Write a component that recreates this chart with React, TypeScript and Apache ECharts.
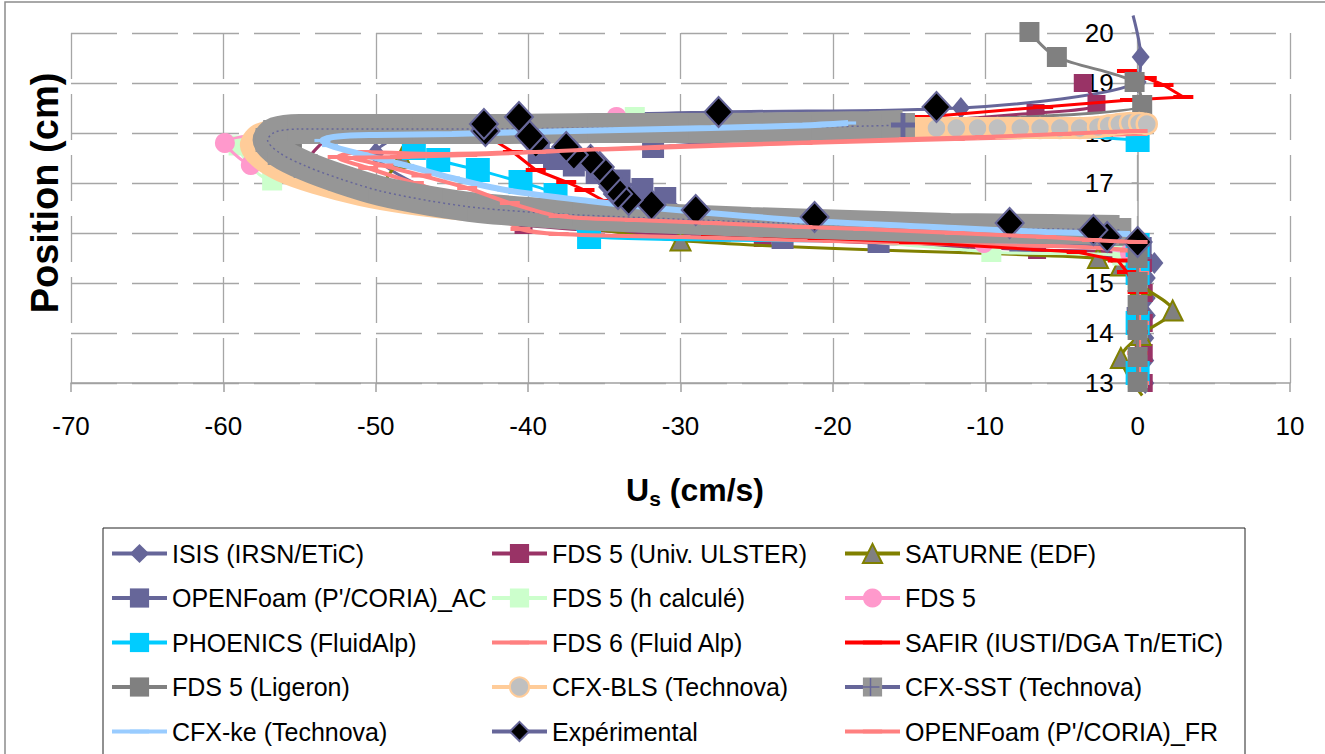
import { useEffect, useRef } from 'react';
import * as echarts from 'echarts';

type Pt = [number, number];

const xRange = { min: -70, max: 10, step: 10 };
const yRange = { min: 13, max: 20, step: 1 };

const isis: Pt[] = [[0.5,13.0],[0.5,13.45],[0.5,13.9],[0.6,14.35],[0.6,14.7],[0.6,15.1],[1.1,15.4],[-2,15.74],[-11.3,15.82],[-30,15.94],[-43.2,16.5],[-50,17.6],[-47,18.1],[-40.6,18.3],[-27.5,18.42],[-11.6,18.5],[0,19.02],[0.2,19.52],[-0.3,20.35]];
const fds5Ulster: Pt[] = [[0.4,13.0],[0.4,13.6],[0.4,14.2],[0.4,14.8],[0.35,15.4],[-2,15.62],[-6.6,15.66],[-24.6,15.9],[-40.3,16.16],[-46.4,16.64],[-52.3,17.08],[-54.6,17.34],[-52,18.05],[-35,18.08],[-22,18.1],[-6.7,18.4],[-2.7,18.58],[-3.6,19.0]];
const saturne: Pt[] = [[0.3,12.75],[-1.1,13.5],[0.2,13.96],[2.3,14.45],[0.2,14.96],[-1.1,15.35],[-2.6,15.5],[-30,15.85],[-43.2,16.5],[-49.7,16.84],[-48.3,17.5],[-46,18.06],[-36,18.08],[-20,18.1],[-6,18.14],[0,18.2]];
const openfoamAC: Pt[] = [[0,13.2],[0,14.3],[0,15.2],[0.2,15.7],[-7.7,15.8],[-17,15.82],[-23.3,15.9],[-27.4,16.05],[-31,16.7],[-32.5,16.88],[-34,17.05],[-35.5,17.2],[-37,17.35],[-38.3,17.48],[-39.3,17.6],[-31.8,17.72],[-15,18.08],[0,18.1]];
const fds5hCalc: Pt[] = [[0,13.1],[0,14.1],[0,15.1],[-1,15.55],[-9.6,15.62],[-37.9,16.38],[-46.4,16.64],[-52.3,17.08],[-56.8,17.05],[-59,17.75],[-56,18.1],[-45,18.1],[-33,18.32],[-18,18.12],[0,18.2]];
const fds5: Pt[] = [[0,13.1],[0,14.1],[0,15.1],[-0.5,15.6],[-10.1,15.8],[-37.9,16.38],[-46.4,16.64],[-52.3,17.08],[-58.2,17.36],[-59.9,17.8],[-52,18.1],[-34.2,18.32],[-18,18.1],[0,18.2]];
const phoenics: Pt[] = [[0,13.2],[0,14.2],[0,15.2],[0,15.76],[-36,15.92],[-38.2,16.76],[-40.5,17.02],[-43.3,17.26],[-45.9,17.46],[-47.5,17.7],[-44,18.08],[-30,18.08],[-15,18.08],[0,17.86]];
const fds6: Pt[] = [[0.1,13.0],[0.1,14.2],[0.1,15.2],[-0.5,15.65],[-10,15.76],[-20,15.84],[-30,15.92],[-38,15.98],[-40.5,16.08],[-42,16.35],[-44.5,16.7],[-47.5,17.0],[-50.5,17.3],[-52.5,17.52],[-51,17.62],[-46,17.58],[-40,17.62],[-32,17.7],[-22,17.8],[-12,17.88],[0,17.98]];
const safir: Pt[] = [[0,13.6],[0,14.02],[0,14.42],[0,14.82],[-0.7,15.22],[-1.3,15.45],[-4,15.62],[-15,15.82],[-21,15.9],[-28,15.98],[-31.5,16.12],[-33.5,16.4],[-35,16.64],[-36.3,16.86],[-37.5,17.02],[-39.5,17.26],[-41,17.62],[-43,18.0],[-30,18.1],[-20,18.16],[-14,18.32],[-6.2,18.52],[-0.5,18.66],[3.0,18.72],[1.7,18.96],[0.6,19.1],[-0.7,19.24]];
const fds5Ligeron: Pt[] = [[0,13.02],[0,13.52],[0,14.06],[0,14.56],[0,15.02],[0,15.5],[-1.5,15.95],[-12,16.08],[-28,16.24],[-42,16.48],[-49.7,16.84],[-54.6,17.34],[-55.5,17.85],[-48,18.08],[-30,18.12],[0.3,18.56],[-0.2,19.02],[-5.3,19.52],[-7.1,20.02]];
const cfxBlsCurve: Pt[] = [[-0.5,16.08],[-5,16.08],[-12,16.1],[-20,16.16],[-30,16.26],[-38,16.36],[-44,16.46],[-48,16.6],[-51,16.76],[-54,17.0],[-56.2,17.24],[-57.6,17.5],[-58.2,17.76],[-57.6,17.98],[-55,18.14],[-50,18.16],[-40,18.14],[-30,18.12],[-20,18.1]];
const cfxBlsMarked: Pt[] = [[-13.2,18.1],[-11.9,18.1],[-10.5,18.1],[-9.2,18.1],[-7.7,18.1],[-6.4,18.1],[-5.1,18.1],[-3.8,18.1],[-2.6,18.12],[-1.9,18.15],[-1.2,18.18],[-0.5,18.2],[0.1,18.2],[0.6,18.18]];
const cfxSst: Pt[] = [[-1.2,16.06],[-5.7,16.08],[-12.3,16.1],[-18.9,16.16],[-25.4,16.22],[-32,16.3],[-37.9,16.38],[-43.2,16.5],[-46.4,16.64],[-49.7,16.84],[-52.3,17.08],[-54.6,17.34],[-56.3,17.6],[-57.1,17.86],[-56.6,18.02],[-55,18.08],[-51.7,18.08],[-48.4,18.08],[-41.8,18.08],[-35.3,18.1],[-28.7,18.1],[-22.2,18.12],[-17.6,18.14],[-15.4,18.16]];
const cfxKe: Pt[] = [[-0.5,15.98],[-6,16.02],[-12,16.1],[-22,16.25],[-31,16.48],[-36,16.64],[-41.5,16.86],[-45,17.1],[-48,17.35],[-51,17.58],[-53,17.75],[-53.5,17.85],[-52.5,17.93],[-50,17.96],[-45,17.98],[-40,18.02],[-34,18.06],[-28,18.1],[-22,18.15],[-19,18.2]];
const experimental: Pt[] = [[0,15.82],[-2.0,15.92],[-2.9,16.06],[-8.4,16.2],[-21.2,16.32],[-29.0,16.46],[-31.9,16.56],[-33.4,16.66],[-34.1,16.78],[-34.4,16.92],[-34.8,17.1],[-35.3,17.32],[-35.9,17.46],[-37.0,17.56],[-37.5,17.72],[-39.5,17.8],[-39.9,17.94],[-42.8,18.04],[-42.9,18.18],[-40.6,18.32],[-27.5,18.42],[-13.2,18.52]];
const openfoamFR: Pt[] = [[0,15.82],[-3,15.86],[-6,15.92],[-12,16.0],[-18,16.08],[-22,16.12],[-28,16.2],[-33,16.26],[-38,16.34],[-41.2,16.6],[-44,16.9],[-47,17.15],[-49.5,17.35],[-51.5,17.5],[-48.4,17.52],[-44,17.56],[-39.5,17.62],[-35,17.68],[-30,17.74],[-25,17.78],[-20.8,17.82],[-15,17.88],[-10,17.92],[-5,17.98],[-2,18.02],[0,18.04]];

const legendCol1 = ['ISIS (IRSN/ETiC)', "OPENFoam (P'/CORIA)_AC", 'PHOENICS (FluidAlp)', 'FDS 5 (Ligeron)', 'CFX-ke (Technova)'];
const legendCol2 = ['FDS 5 (Univ. ULSTER)', 'FDS 5 (h calculé)', 'FDS 6 (Fluid Alp)', 'CFX-BLS (Technova)', 'Expérimental'];
const legendCol3 = ['SATURNE (EDF)', 'FDS 5', 'SAFIR (IUSTI/DGA Tn/ETiC)', 'CFX-SST (Technova)', "OPENFoam (P'/CORIA)_FR"];

const DASH = 'path://M0,0M0,8H20V12H0ZM20,20';
const PLUS = 'path://M8,0H12V20H8ZM0,8H20V12H0Z';
const FONT = "'Liberation Sans', Arial, sans-serif";

const markInside = (arr: Pt[]) => arr.map((p) => (p[1] > 20.1 || p[1] < 13 ? { value: p, symbol: 'none' } : p));

function App() {
  const ref = useRef<HTMLDivElement>(null);
  useEffect(() => {
    if (!ref.current) return;
    const chart = echarts.init(ref.current, undefined, { renderer: 'svg' });
    let zc = 2;
    const ln = (name: string, data: any[], color: string, width: number, symbol: string, size: any, extra: any = {}) => ({
      type: 'line', name, data, smooth: 0.3, symbol, symbolSize: size, showSymbol: true, z: zc++,
      itemStyle: { color }, lineStyle: { color, width }, emphasis: { disabled: true }, ...extra,
    });
    const gridLine = { show: true, lineStyle: { color: '#A6A6A6', width: 1.3, type: [46, 15] } };
    const zeroPx = 71 + ((0 - xRange.min) / (xRange.max - xRange.min)) * 1219;
    const legendTop = 536;
    const rowGap = 19.5;
    const rowH = 25;
    const legendBase = (names: string[], left: number) => ({
      orient: 'vertical', left, top: legendTop, itemWidth: 55, itemHeight: 24, itemGap: rowGap,
      selectedMode: false,
      textStyle: { fontSize: 25, fontFamily: FONT, color: '#000' },
      lineStyle: { width: 4 },
      data: names.map((n) => {
        if (n === 'CFX-SST (Technova)') return { name: n, lineStyle: { color: '#666699', width: 4 } };
        if (n === 'Expérimental') return { name: n, lineStyle: { color: '#666699', width: 4, opacity: 1 } };
        return { name: n };
      }),
    });
    const sstRow = legendCol3.indexOf('CFX-SST (Technova)');
    const plusCx = 838 + 5 + 27.5;
    const plusCy = legendTop + 5 + sstRow * (rowH + rowGap) + rowH / 2;
    chart.setOption({
      animation: false,
      grid: { left: 71, top: 33, width: 1219, height: 350, containLabel: false },
      xAxis: {
        type: 'value', min: xRange.min, max: xRange.max, interval: xRange.step,
        axisLine: { show: true, onZero: false, lineStyle: { color: '#A0A0A0', width: 1.5 } },
        axisTick: { show: true, length: 9, lineStyle: { color: '#A0A0A0', width: 1.5 } },
        axisLabel: { fontSize: 26, color: '#000', fontFamily: FONT, margin: 30 },
        splitLine: gridLine,
      },
      yAxis: {
        type: 'value', min: yRange.min, max: yRange.max, interval: yRange.step,
        position: 'left', offset: -(zeroPx - 71),
        axisLine: { show: true, onZero: false, lineStyle: { color: '#A0A0A0', width: 1.5 } },
        axisTick: { show: true, length: 6, lineStyle: { color: '#A0A0A0', width: 1.5 } },
        axisLabel: { fontSize: 26, color: '#000', fontFamily: FONT, margin: 24 },
        splitLine: gridLine,
      },
      legend: [legendBase(legendCol1, 105), legendBase(legendCol2, 485), legendBase(legendCol3, 838)],
      graphic: [
        { type: 'rect', shape: { x: 5, y: 2, width: 1340, height: 800 }, style: { fill: 'none', stroke: '#8C8C8C', lineWidth: 1.5 }, silent: true, z: -10 },
        { type: 'rect', shape: { x: 103, y: 528, width: 1142, height: 260 }, style: { fill: 'none', stroke: '#222', lineWidth: 1 }, silent: true },
        { type: 'line', shape: { x1: plusCx - 9, y1: plusCy, x2: plusCx + 9, y2: plusCy }, style: { stroke: '#666699', lineWidth: 1.5 }, silent: true, z: 100 },
        { type: 'line', shape: { x1: plusCx, y1: plusCy - 9, x2: plusCx, y2: plusCy + 9 }, style: { stroke: '#666699', lineWidth: 1.5 }, silent: true, z: 100 },
        { type: 'text', x: 45, y: 193, rotation: Math.PI / 2, style: { text: 'Position (cm)', font: `bold 38px ${FONT}`, fill: '#000', align: 'center', verticalAlign: 'middle', textAlign: 'center', textVerticalAlign: 'middle' } },
        { type: 'text', x: 695, y: 490, style: { text: '{u|U}{s|s}{u| (cm/s)}', align: 'center', verticalAlign: 'middle', textAlign: 'center', textVerticalAlign: 'middle',
          rich: { u: { fontSize: 32, fontWeight: 'bold', fontFamily: FONT, lineHeight: 38, fill: '#000' }, s: { fontSize: 21, fontWeight: 'bold', fontFamily: FONT, lineHeight: 38, verticalAlign: 'bottom', fill: '#000' } } } },
      ],
      series: [
        ln('ISIS (IRSN/ETiC)', markInside(isis), '#666699', 3, 'diamond', [18, 22], { clip: false }),
        ln('FDS 5 (Univ. ULSTER)', fds5Ulster, '#993366', 3, 'rect', 18),
        ln('SATURNE (EDF)', markInside(saturne), '#808000', 3, 'triangle', 20, { clip: false, itemStyle: { color: '#808080', borderColor: '#808000', borderWidth: 2 } }),
        ln("OPENFoam (P'/CORIA)_AC", openfoamAC, '#666699', 3, 'rect', 22),
        ln('FDS 5 (h calculé)', fds5hCalc, '#CCFFCC', 3, 'rect', 20),
        ln('FDS 5', fds5, '#FF99CC', 3, 'circle', 20),
        ln('PHOENICS (FluidAlp)', phoenics, '#00CCFF', 3, 'rect', 24),
        ln('FDS 6 (Fluid Alp)', fds6, '#FF8080', 4, DASH, 20),
        ln('SAFIR (IUSTI/DGA Tn/ETiC)', safir, '#FF0000', 3, DASH, 20, { smooth: false }),
        ln('FDS 5 (Ligeron)', fds5Ligeron, '#808080', 3, 'rect', 20, { clip: false }),
        ln('CFX-BLS (Technova)', [...cfxBlsCurve.map((p) => ({ value: p, symbol: 'none' })), ...cfxBlsMarked], '#FFCC99', 22, 'circle', 20,
          { itemStyle: { color: '#C0C0C0', borderColor: '#FFCC99', borderWidth: 2.5 } }),
        ln('CFX-SST (Technova)', cfxSst, '#969696', 30, 'rect', 24),
        ln('cfx-sst-marks', cfxSst.map((p, i) => (i === cfxSst.length - 1 ? { value: p } : { value: p, symbol: 'none' })), '#666699', 1.5, PLUS, 24,
          { lineStyle: { color: '#666699', width: 1.5, type: [2, 3] } }),
        ln('CFX-ke (Technova)', cfxKe, '#99CCFF', 6, DASH, 16),
        ln('Expérimental', experimental, '#000000', 2, 'diamond', [28, 30],
          { itemStyle: { color: '#000000', borderColor: '#666699', borderWidth: 2 }, lineStyle: { color: '#666699', width: 3, opacity: 0 } }),
        ln("OPENFoam (P'/CORIA)_FR", openfoamFR, '#FF8080', 4, DASH, 20),
      ],
    });
    return () => chart.dispose();
  }, []);
  return <div ref={ref} style={{ position: 'absolute', left: 0, top: 0, width: 1325, height: 754 }} />;
}

export default App;
